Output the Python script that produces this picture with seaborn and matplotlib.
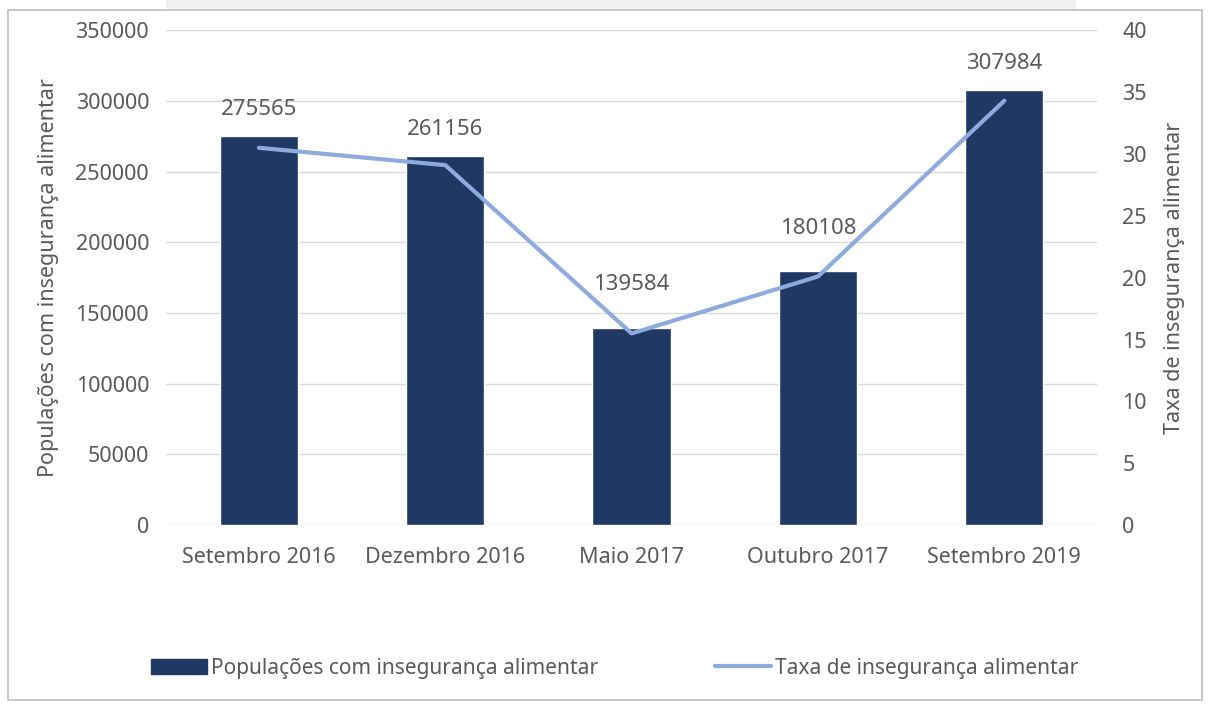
import matplotlib
matplotlib.use("Agg")
import matplotlib.pyplot as plt
import seaborn as sns
import numpy as np
from matplotlib.patches import Rectangle
from matplotlib.lines import Line2D
from matplotlib.patches import Patch

categories = ["Setembro 2016", "Dezembro 2016", "Maio 2017", "Outubro 2017", "Setembro 2019"]
populacoes = [275565, 261156, 139584, 180108, 307984]
taxa = [30.5, 29.1, 15.5, 20.1, 34.3]
left_ticks = [0, 50000, 100000, 150000, 200000, 250000, 300000, 350000]
right_ticks = [0, 5, 10, 15, 20, 25, 30, 35, 40]
label_offsets = [19, 19, 31, 30, 19]  # points above bar top

sns.set_theme(style="white")
plt.rcParams['font.family'] = ['Noto Sans', 'DejaVu Sans']

BAR = "#203864"
LINE = "#8faadc"
TXT = "#595959"
GRID = "#d9d9d9"
FS = 15.5

fig = plt.figure(figsize=(12.1, 7.04), dpi=100)
ax = fig.add_axes([0.137, 0.254, 0.770, 0.703])

sns.barplot(x=categories, y=populacoes, color=BAR, width=0.42, ax=ax, saturation=1)
ax.set_ylim(0, 350000)
ax.set_yticks(left_ticks)
ax.set_yticklabels([str(t) for t in left_ticks])
ax.set_xlim(-0.5, 4.5)
ax.grid(axis="y", color=GRID, lw=1)
ax.set_axisbelow(True)
for s in ax.spines.values():
    s.set_visible(False)
ax.tick_params(axis="both", length=0, labelsize=FS, colors=TXT)
ax.tick_params(axis="x", pad=16)
ax.tick_params(axis="y", pad=12)
ax.set_xlabel("")
ax.set_ylabel("Populações com insegurança alimentar", fontsize=FS, color=TXT, labelpad=12)

for i, v in enumerate(populacoes):
    ax.annotate(str(v), (i, v), xytext=(0, label_offsets[i]), textcoords="offset points",
                ha="center", va="center", fontsize=FS + 0.5, color=TXT)

ax2 = ax.twinx()
sns.lineplot(x=np.arange(len(categories)), y=taxa, color=LINE, lw=3, ax=ax2)
ax2.set_ylim(0, 40)
ax2.set_yticks(right_ticks)
ax2.set_yticklabels([str(t) for t in right_ticks])
ax2.set_xlim(-0.5, 4.5)
for s in ax2.spines.values():
    s.set_visible(False)
ax2.tick_params(axis="y", length=0, labelsize=FS, colors=TXT, pad=18)
ax2.set_ylabel("Taxa de insegurança alimentar", fontsize=FS, color=TXT, labelpad=12)
ax2.grid(False)

handles = [Patch(facecolor=BAR, edgecolor=BAR),
           Line2D([0], [0], color=LINE, lw=3)]
labels = ["Populações com insegurança alimentar", "Taxa de insegurança alimentar"]
fig.legend(handles, labels, loc="center", bbox_to_anchor=(0.508, 0.051), ncol=2,
           frameon=False, fontsize=15, labelcolor=TXT, handlelength=2.7,
           handletextpad=0.2, columnspacing=5.6)

# outer frame and top strip
fig.patches.append(Rectangle((0.007, 0.006), 0.986, 0.98, transform=fig.transFigure,
                             fill=False, edgecolor="#bfbfbf", lw=1.2))
fig.patches.append(Rectangle((0.137, 0.987), 0.752, 0.013, transform=fig.transFigure,
                             facecolor="#f0f0f0", edgecolor="none"))

fig.savefig("out.png", dpi=100)
